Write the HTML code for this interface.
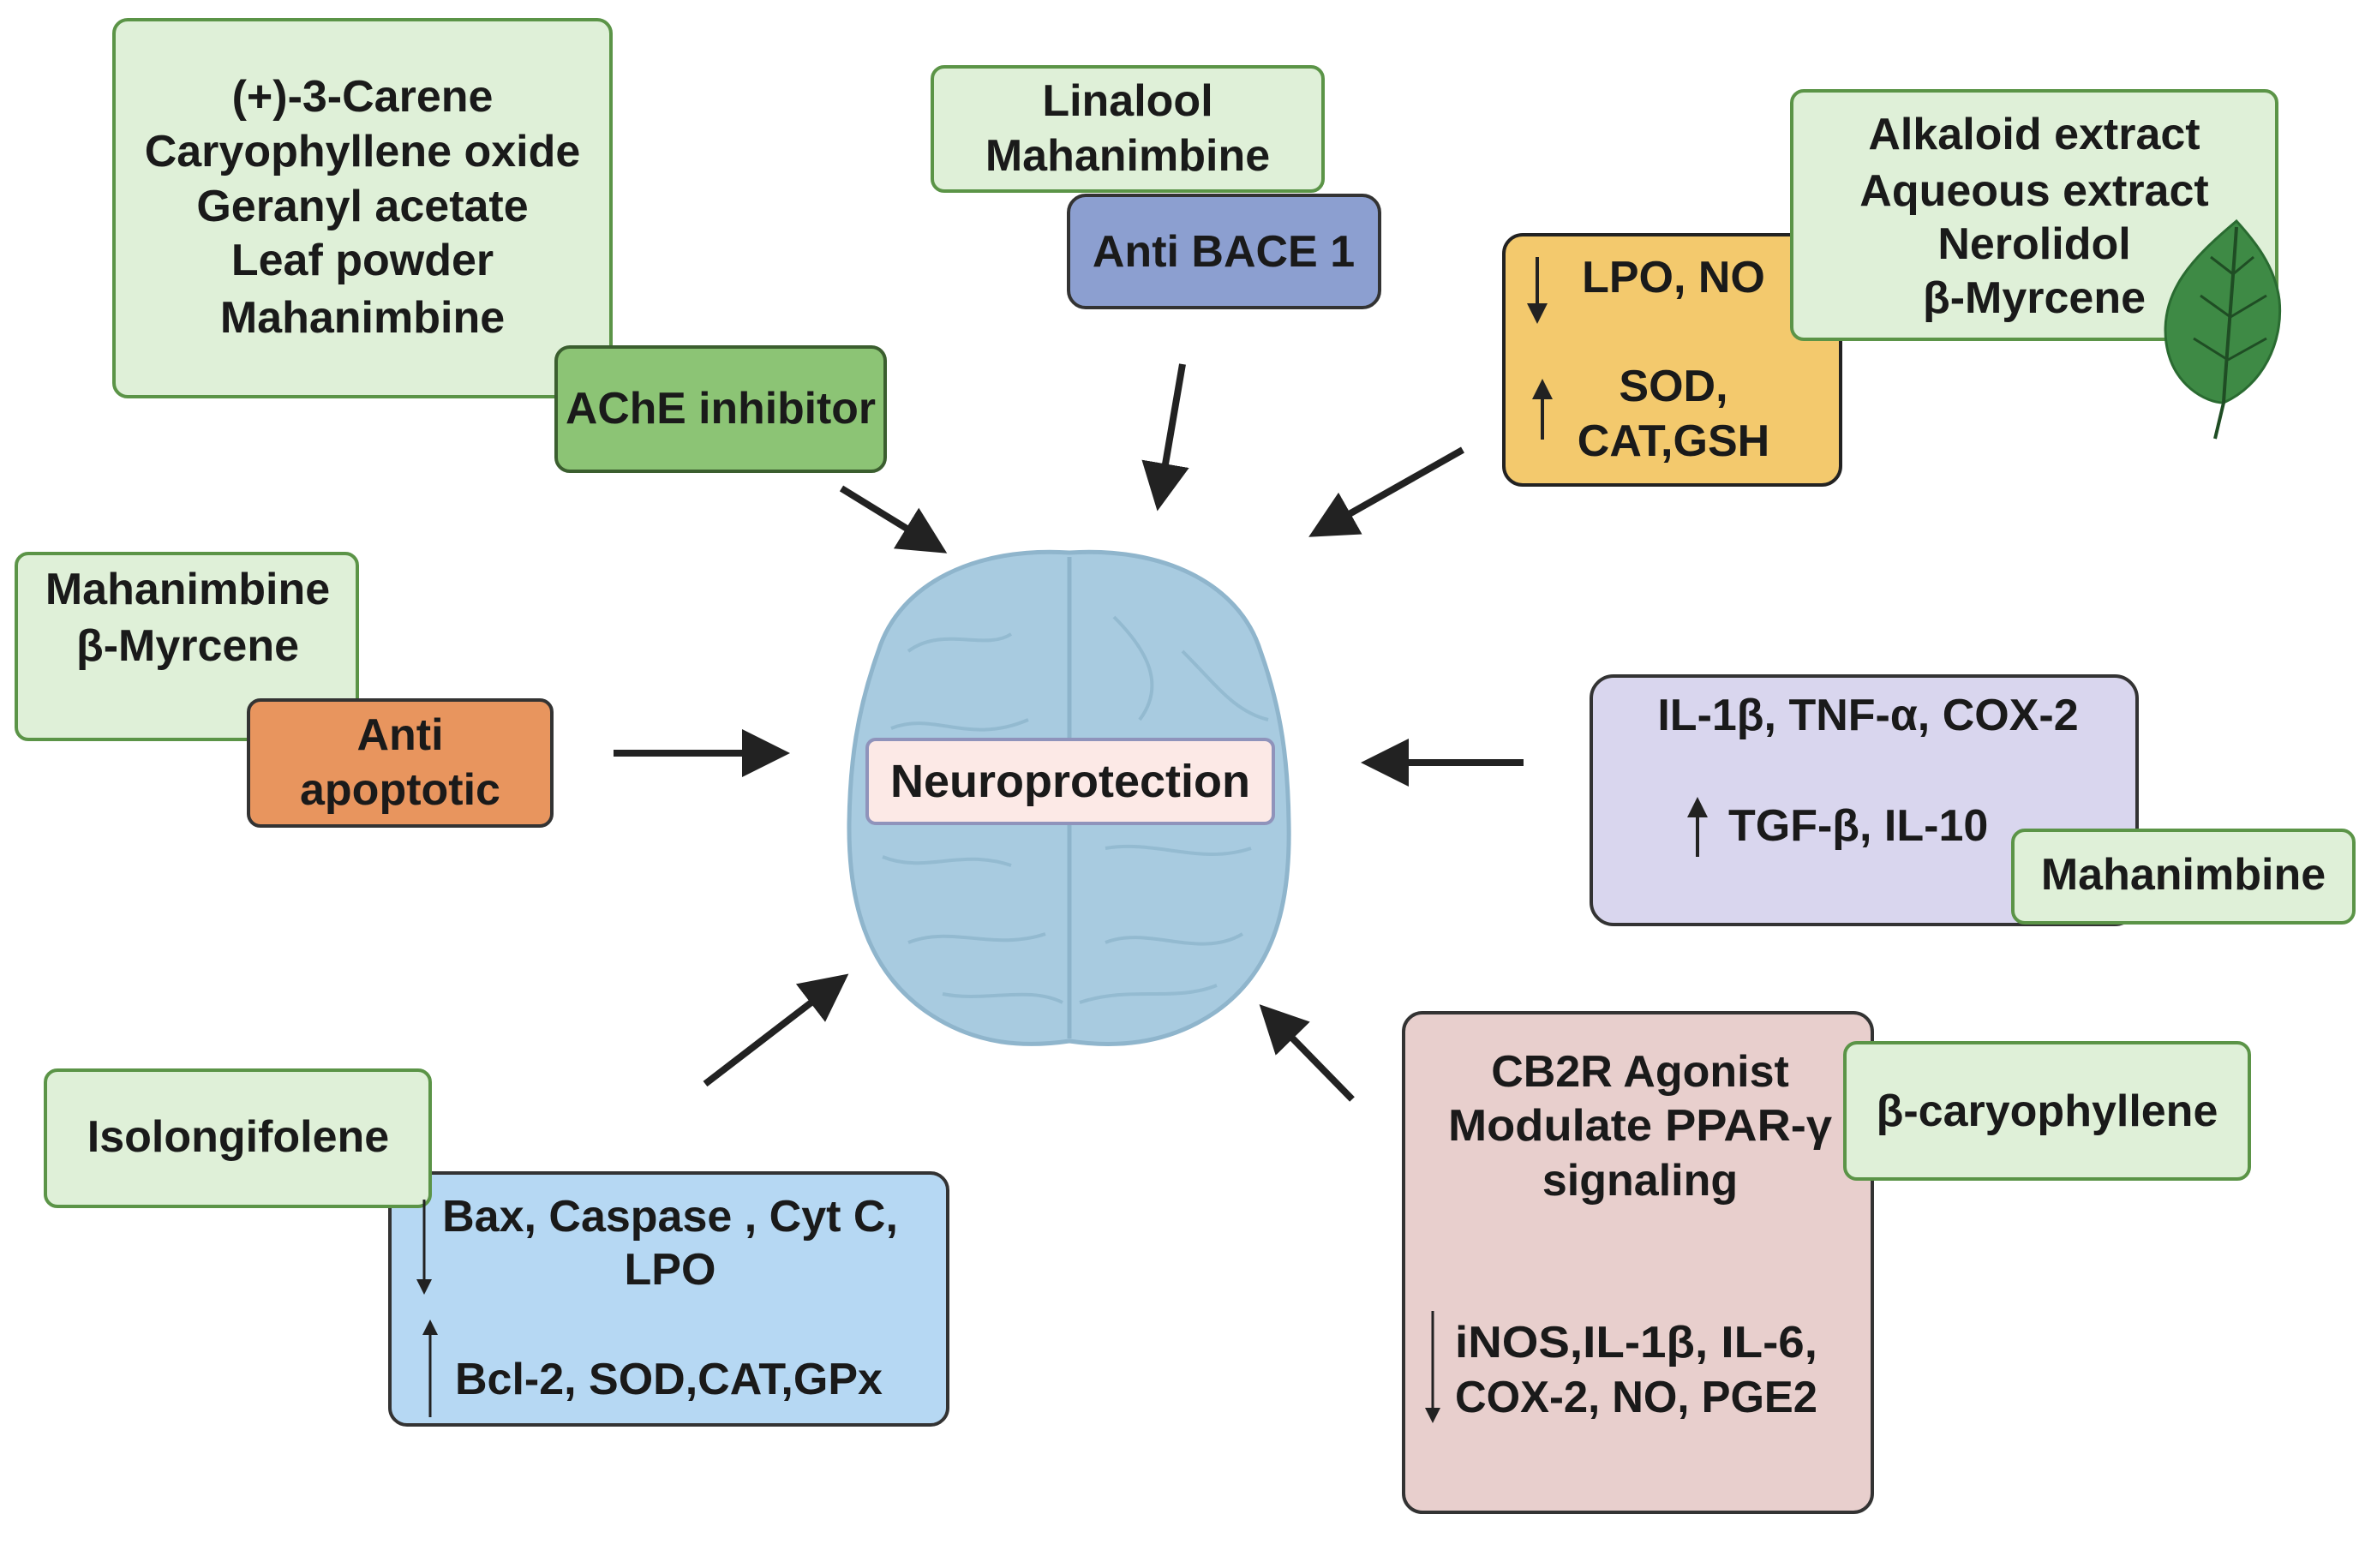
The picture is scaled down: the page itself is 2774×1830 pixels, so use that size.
<!DOCTYPE html>
<html><head><meta charset="utf-8"><style>
html,body{margin:0;padding:0;background:#fff}
svg{display:block}
text{font-family:"Liberation Sans",sans-serif;font-weight:bold;fill:#1a1a1a;dominant-baseline:central}
</style></head><body>
<svg width="2774" height="1830" viewBox="0 0 2774 1830" xmlns="http://www.w3.org/2000/svg">
<defs>
<marker id="ah" markerWidth="7" markerHeight="7" refX="3" refY="3.5" orient="auto" markerUnits="strokeWidth">
<path d="M0,0 L7,3.5 L0,7 z" fill="#222"/></marker>
<marker id="sa" markerWidth="6" markerHeight="6" refX="4" refY="3" orient="auto" markerUnits="strokeWidth">
<path d="M0,0 L6,3 L0,6 z" fill="#222"/></marker>
</defs>
<rect width="2774" height="1830" fill="#fff"/>

<!-- Brain -->
<g>
<path d="M1248,645 C1140,638 1050,680 1025,760 C1000,830 992,890 991,960 C990,1050 1010,1130 1080,1180 C1140,1222 1200,1222 1248,1215 C1296,1222 1360,1222 1420,1180 C1490,1130 1506,1050 1504,960 C1503,890 1496,830 1471,760 C1446,680 1356,638 1248,645 Z" fill="#a8cbe0" stroke="#8fb5cc" stroke-width="5"/>
<path d="M1248,650 L1248,1212" stroke="#8eb4cb" stroke-width="5"/>
<g fill="none" stroke="#8fb6cd" stroke-width="4" opacity="0.8">
<path d="M1060,760 C1100,730 1150,760 1180,740"/>
<path d="M1040,850 C1090,830 1130,870 1200,840"/>
<path d="M1300,720 C1340,760 1360,800 1330,840"/>
<path d="M1380,760 C1420,800 1440,830 1480,840"/>
<path d="M1030,1000 C1080,1020 1120,990 1180,1010"/>
<path d="M1060,1100 C1110,1080 1160,1110 1220,1090"/>
<path d="M1290,990 C1350,980 1400,1010 1460,990"/>
<path d="M1290,1100 C1340,1080 1400,1120 1450,1090"/>
<path d="M1100,1160 C1150,1170 1200,1150 1240,1170"/>
<path d="M1260,1170 C1320,1150 1370,1170 1420,1150"/>
</g>
</g>
<rect x="1012" y="863" width="474" height="98" rx="10" fill="#fce9e6" stroke="#8f93bb" stroke-width="4"/>
<text x="1249" y="912" font-size="54" text-anchor="middle">Neuroprotection</text>

<!-- Box 1 -->
<rect x="133" y="23" width="580" height="440" rx="16" fill="#dff0d8" stroke="#5b9447" stroke-width="4"/>
<g font-size="52" text-anchor="middle">
<text x="423" y="113">(+)-3-Carene</text>
<text x="423" y="177">Caryophyllene oxide</text>
<text x="423" y="241">Geranyl acetate</text>
<text x="423" y="304">Leaf powder</text>
<text x="423" y="371">Mahanimbine</text>
</g>
<rect x="649" y="405" width="384" height="145" rx="16" fill="#8cc475" stroke="#3b5e2f" stroke-width="4"/>
<text x="841" y="477" font-size="52" text-anchor="middle" textLength="362" lengthAdjust="spacingAndGlyphs">AChE inhibitor</text>

<!-- Linalool -->
<rect x="1088" y="78" width="456" height="145" rx="14" fill="#dff0d8" stroke="#5b9447" stroke-width="4"/>
<text x="1316" y="118" font-size="52" text-anchor="middle">Linalool</text>
<text x="1316" y="182" font-size="52" text-anchor="middle">Mahanimbine</text>
<rect x="1247" y="228" width="363" height="131" rx="20" fill="#8c9fd0" stroke="#333" stroke-width="4"/>
<text x="1428" y="294" font-size="52" text-anchor="middle">Anti BACE 1</text>

<!-- LPO box -->
<rect x="1755" y="274" width="393" height="292" rx="22" fill="#f3c96d" stroke="#222" stroke-width="4"/>
<text x="1953" y="324" font-size="52" text-anchor="middle">LPO, NO</text>
<text x="1953" y="451" font-size="52" text-anchor="middle">SOD,</text>
<text x="1953" y="515" font-size="52" text-anchor="middle">CAT,GSH</text>
<line x1="1794" y1="300" x2="1794" y2="370" stroke="#222" stroke-width="4" marker-end="url(#sa)"/>
<line x1="1800" y1="513" x2="1800" y2="450" stroke="#222" stroke-width="4" marker-end="url(#sa)"/>
<rect x="2091" y="106" width="566" height="290" rx="14" fill="#dff0d8" stroke="#5b9447" stroke-width="4"/>
<g font-size="52" text-anchor="middle">
<text x="2374" y="157">Alkaloid extract</text>
<text x="2374" y="223">Aqueous extract</text>
<text x="2374" y="285">Nerolidol</text>
<text x="2374" y="348">β-Myrcene</text>
</g>
<!-- leaf -->
<path d="M2610,258 C2560,300 2520,340 2528,400 C2535,450 2575,470 2595,470 C2640,450 2665,400 2660,350 C2655,310 2630,280 2610,258 Z" fill="#3e8a45" stroke="#2a6b31" stroke-width="3"/>
<path d="M2610,265 C2605,340 2598,420 2595,470 L2585,512" fill="none" stroke="#1f4d24" stroke-width="4"/>
<g stroke="#1f4d24" stroke-width="3" fill="none">
<path d="M2606,320 L2580,300"/><path d="M2606,320 L2630,300"/>
<path d="M2603,370 L2568,345"/><path d="M2603,370 L2645,345"/>
<path d="M2600,420 L2560,395"/><path d="M2600,420 L2645,395"/>
</g>

<!-- Mahanimbine / Myrcene left -->
<rect x="19" y="646" width="398" height="217" rx="14" fill="#dff0d8" stroke="#5b9447" stroke-width="4"/>
<text x="219" y="688" font-size="52" text-anchor="middle">Mahanimbine</text>
<text x="219" y="754" font-size="52" text-anchor="middle">β-Myrcene</text>
<rect x="290" y="817" width="354" height="147" rx="14" fill="#e8955e" stroke="#333" stroke-width="4"/>
<text x="467" y="858" font-size="52" text-anchor="middle">Anti</text>
<text x="467" y="922" font-size="52" text-anchor="middle">apoptotic</text>

<!-- IL box -->
<rect x="1857" y="789" width="637" height="290" rx="26" fill="#d9d6ee" stroke="#333" stroke-width="4"/>
<text x="2180" y="835" font-size="52" text-anchor="middle">IL-1β, TNF-α, COX-2</text>
<text x="2017" y="964" font-size="52">TGF-β, IL-10</text>
<line x1="1981" y1="1000" x2="1981" y2="938" stroke="#222" stroke-width="4" marker-end="url(#sa)"/>
<rect x="2349" y="969" width="398" height="108" rx="14" fill="#dff0d8" stroke="#5b9447" stroke-width="4"/>
<text x="2548" y="1021" font-size="52" text-anchor="middle">Mahanimbine</text>

<!-- Isolongifolene -->
<rect x="455" y="1369" width="651" height="294" rx="20" fill="#b6d8f3" stroke="#333" stroke-width="4"/>
<rect x="53" y="1249" width="449" height="159" rx="14" fill="#dff0d8" stroke="#5b9447" stroke-width="4"/>
<text x="278" y="1327" font-size="52" text-anchor="middle">Isolongifolene</text>
<text x="782" y="1420" font-size="52" text-anchor="middle">Bax, Caspase , Cyt C,</text>
<text x="782" y="1482" font-size="52" text-anchor="middle">LPO</text>
<text x="531" y="1610" font-size="52">Bcl-2, SOD,CAT,GPx</text>
<line x1="495" y1="1400" x2="495" y2="1505" stroke="#222" stroke-width="3" marker-end="url(#sa)"/>
<line x1="502" y1="1654" x2="502" y2="1546" stroke="#222" stroke-width="3" marker-end="url(#sa)"/>

<!-- CB2R -->
<rect x="1638" y="1182" width="547" height="583" rx="22" fill="#e8cfcd" stroke="#333" stroke-width="4"/>
<g font-size="52" text-anchor="middle">
<text x="1914" y="1251">CB2R Agonist</text>
<text x="1914" y="1314" textLength="448" lengthAdjust="spacingAndGlyphs">Modulate PPAR-γ</text>
<text x="1914" y="1378">signaling</text>
</g>
<text x="1698" y="1567" font-size="52" textLength="423" lengthAdjust="spacingAndGlyphs">iNOS,IL-1β, IL-6,</text>
<text x="1698" y="1631" font-size="52" textLength="423" lengthAdjust="spacingAndGlyphs">COX-2, NO, PGE2</text>
<line x1="1672" y1="1530" x2="1672" y2="1655" stroke="#222" stroke-width="3" marker-end="url(#sa)"/>
<rect x="2153" y="1217" width="472" height="159" rx="14" fill="#dff0d8" stroke="#5b9447" stroke-width="4"/>
<text x="2389" y="1297" font-size="52" text-anchor="middle">β-caryophyllene</text>

<!-- Main arrows -->
<g stroke="#222" stroke-width="8" marker-end="url(#ah)">
<line x1="982" y1="570" x2="1078" y2="629"/>
<line x1="1380" y1="425" x2="1356" y2="565"/>
<line x1="1707" y1="525" x2="1555" y2="611"/>
<line x1="716" y1="879" x2="890" y2="879"/>
<line x1="1778" y1="890" x2="1620" y2="890"/>
<line x1="823" y1="1265" x2="965" y2="1156"/>
<line x1="1578" y1="1283" x2="1492" y2="1195"/>
</g>
</svg>
</body></html>
